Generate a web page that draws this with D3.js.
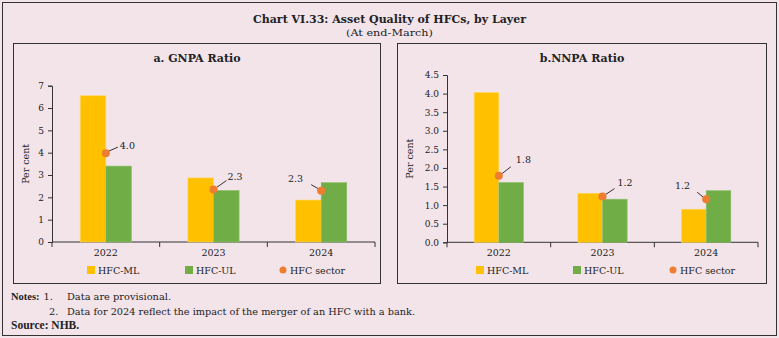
<!DOCTYPE html>
<html><head><meta charset="utf-8">
<script src="https://cdn.jsdelivr.net/npm/d3@7"></script>
<style>
html,body{margin:0;padding:0;background:#f3e4ea;}
svg{display:block;}
text{font-family:"DejaVu Serif","Liberation Serif",serif;fill:#222;}
</style></head>
<body>
<svg id="c" width="779" height="338"></svg>
<script>
const categories = ["2022", "2023", "2024"];
const gnpaML = [6.55, 2.87, 1.88];
const gnpaUL = [3.40, 2.31, 2.66];
const gnpaSector = [3.98, 2.35, 2.30];
const gnpaSectorLabels = ["4.0", "2.3", "2.3"];
const nnpaML = [4.03, 1.32, 0.89];
const nnpaUL = [1.61, 1.16, 1.39];
const nnpaSector = [1.79, 1.23, 1.16];
const nnpaSectorLabels = ["1.8", "1.2", "1.2"];
const gnpaTicks = [0, 1, 2, 3, 4, 5, 6, 7];
const nnpaTicks = [0, 0.5, 1.0, 1.5, 2.0, 2.5, 3.0, 3.5, 4.0, 4.5];
const seriesNames = ["HFC-ML", "HFC-UL", "HFC sector"];

const C_ML = "#ffc000", C_UL = "#70ad47", C_SEC = "#ed7d31", AX = "#333";
const svg = d3.select("#c");

// outer frame
svg.append("rect").attr("x", 2.5).attr("y", 2.5).attr("width", 774).attr("height", 333)
  .attr("fill", "#f3e4ea").attr("stroke", "#333").attr("stroke-width", 1);
svg.append("text").attr("x", 389.5).attr("y", 22.5).attr("text-anchor", "middle")
  .attr("textLength", 273).attr("lengthAdjust", "spacingAndGlyphs")
  .style("font-weight", "bold").style("font-size", "11px")
  .text("Chart VI.33: Asset Quality of HFCs, by Layer");
svg.append("text").attr("x", 389.5).attr("y", 35.5).attr("text-anchor", "middle")
  .attr("textLength", 87).attr("lengthAdjust", "spacingAndGlyphs")
  .style("font-size", "10px")
  .text("(At end-March)");

function panel(cfg) {
  const g = svg.append("g");
  g.append("rect").attr("x", cfg.box[0] + 0.5).attr("y", cfg.box[1] + 0.5)
    .attr("width", cfg.box[2]).attr("height", cfg.box[3])
    .attr("fill", "none").attr("stroke", "#333").attr("stroke-width", 1);
  g.append("text").attr("x", cfg.titleX).attr("y", 62).attr("text-anchor", "middle")
    .style("font-weight", "bold").style("font-size", "11px").text(cfg.title);

  const x = d3.scaleBand().domain(categories).range(cfg.xr).padding(0);
  const y = d3.scaleLinear().domain([0, cfg.max]).range(cfg.yr);
  const bw = x.bandwidth() * 0.238;

  // y axis
  const ya = g.append("g").attr("transform", `translate(${cfg.xr[0]},0)`)
    .call(d3.axisLeft(y).tickValues(cfg.ticks).tickSize(4).tickPadding(4).tickFormat(cfg.fmt));
  ya.select(".domain").attr("stroke", AX);
  ya.selectAll(".tick line").attr("stroke", AX);
  ya.selectAll(".tick text").style("font-size", "9px").style("font-family", "'DejaVu Serif',serif").attr("fill", "#333");

  // x axis
  const xa = g.append("g").attr("transform", `translate(0,${cfg.yr[0]})`);
  xa.append("line").attr("x1", cfg.xr[0]).attr("x2", cfg.xr[1]).attr("stroke", AX);
  const bounds = categories.map(c => x(c)).concat([cfg.xr[1]]);
  xa.selectAll("line.tk").data(bounds).join("line").attr("class", "tk")
    .attr("x1", d => d).attr("x2", d => d).attr("y1", 0).attr("y2", 5).attr("stroke", AX);
  xa.selectAll("text").data(categories).join("text")
    .attr("x", d => x(d) + x.bandwidth() / 2).attr("y", 14).attr("text-anchor", "middle")
    .style("font-size", "9.5px").text(d => d);

  // y title
  g.append("text").attr("transform", `translate(${cfg.ytX},${(cfg.yr[0] + cfg.yr[1]) / 2}) rotate(-90)`)
    .attr("text-anchor", "middle").style("font-size", "9.5px").text("Per cent");

  // bars
  g.selectAll("rect.ml").data(cfg.ml).join("rect").attr("class", "ml")
    .attr("x", (d, i) => x(categories[i]) + x.bandwidth() / 2 - bw)
    .attr("y", d => y(d)).attr("width", bw).attr("height", d => y(0) - y(d))
    .attr("fill", C_ML).attr("stroke", "#ffd966").attr("stroke-width", 0.6);
  g.selectAll("rect.ul").data(cfg.ul).join("rect").attr("class", "ul")
    .attr("x", (d, i) => x(categories[i]) + x.bandwidth() / 2)
    .attr("y", d => y(d)).attr("width", bw).attr("height", d => y(0) - y(d))
    .attr("fill", C_UL).attr("stroke", "#8fc46f").attr("stroke-width", 0.6);

  // sector dots with leader lines
  cfg.sec.forEach((v, i) => {
    const cx = x(categories[i]) + x.bandwidth() / 2, cy = y(v);
    const o = cfg.offs[i];
    g.append("line").attr("x1", cx + o.l1[0]).attr("y1", cy + o.l1[1])
      .attr("x2", cx + o.l2[0]).attr("y2", cy + o.l2[1]).attr("stroke", "#333").attr("stroke-width", 1);
    g.append("circle").attr("cx", cx).attr("cy", cy).attr("r", 4).attr("fill", C_SEC);
    g.append("text").attr("x", cx + o.t[0]).attr("y", cy + o.t[1]).attr("text-anchor", o.a)
      .style("font-size", "9.5px").text(cfg.secLabels[i]);
  });

  // legend
  const lg = g.append("g").attr("transform", `translate(0,270)`);
  lg.append("rect").attr("x", cfg.leg[0]).attr("y", -4).attr("width", 8).attr("height", 8).attr("fill", C_ML);
  lg.append("text").attr("x", cfg.leg[0] + 11).attr("y", 3.5).style("font-size", "9.5px").text(seriesNames[0]);
  lg.append("rect").attr("x", cfg.leg[1]).attr("y", -4).attr("width", 8).attr("height", 8).attr("fill", C_UL);
  lg.append("text").attr("x", cfg.leg[1] + 11).attr("y", 3.5).style("font-size", "9.5px").text(seriesNames[1]);
  lg.append("circle").attr("cx", cfg.leg[2]).attr("cy", 0).attr("r", 3.5).attr("fill", C_SEC);
  lg.append("text").attr("x", cfg.leg[2] + 7).attr("y", 3.5).style("font-size", "9.5px").text(seriesNames[2]);
}

panel({
  box: [13, 43, 367, 240], title: "a. GNPA Ratio", titleX: 197,
  xr: [52, 375], yr: [242, 85.7], max: 7, ticks: gnpaTicks, fmt: d3.format("d"), ytX: 29,
  ml: gnpaML, ul: gnpaUL, sec: gnpaSector, secLabels: gnpaSectorLabels,
  offs: [
    { l1: [3, -2], l2: [12, -6], t: [14, -4], a: "start" },
    { l1: [3, -2], l2: [13, -9], t: [14, -10], a: "start" },
    { l1: [-3, -2], l2: [-10, -6], t: [-18, -9], a: "end" }
  ],
  leg: [87, 185, 283]
});
panel({
  box: [397, 43, 369, 240], title: "b.NNPA Ratio", titleX: 582,
  xr: [447, 758], yr: [242.3, 75], max: 4.5, ticks: nnpaTicks, fmt: d3.format(".1f"), ytX: 413,
  ml: nnpaML, ul: nnpaUL, sec: nnpaSector, secLabels: nnpaSectorLabels,
  offs: [
    { l1: [3, -2], l2: [12, -9], t: [17, -13], a: "start" },
    { l1: [3, -2], l2: [12, -8], t: [15, -11], a: "start" },
    { l1: [-3, -2], l2: [-9, -7], t: [-16, -10], a: "end" }
  ],
  leg: [476, 573, 673]
});

// notes
const nf = "9.8px";
svg.append("text").attr("x", 11).attr("y", 300)
  .style("font-family", "'Liberation Serif',serif").style("font-size", "10.5px").style("font-weight", "bold").text("Notes:");
svg.append("text").attr("x", 43.5).attr("y", 300).style("font-size", nf).text("1.");
svg.append("text").attr("x", 67).attr("y", 300).style("font-size", nf).text("Data are provisional.");
svg.append("text").attr("x", 49).attr("y", 314.5).style("font-size", nf).text("2.");
svg.append("text").attr("x", 67).attr("y", 314.5).attr("textLength", 348).attr("lengthAdjust", "spacingAndGlyphs")
  .style("font-size", nf).text("Data for 2024 reflect the impact of the merger of an HFC with a bank.");
svg.append("text").attr("x", 11).attr("y", 328.5)
  .style("font-family", "'Liberation Serif',serif").style("font-size", "11.5px").style("font-weight", "bold").text("Source: NHB.");
</script>
</body></html>
